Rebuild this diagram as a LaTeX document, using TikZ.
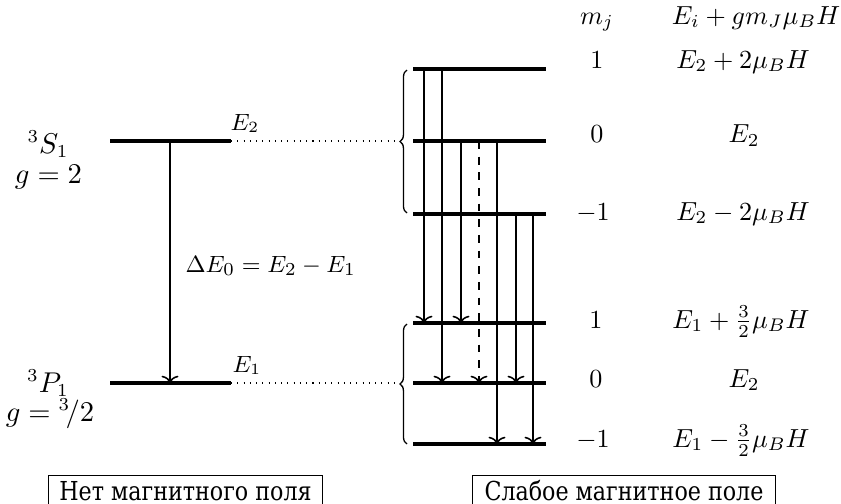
\documentclass[tikz,border=0pt]{standalone}
\usepackage{fontspec}
\newfontfamily\cyrfont[FakeStretch=0.85]{DejaVu Serif}
\usetikzlibrary{arrows.meta,decorations.pathreplacing}
\begin{document}
\begin{tikzpicture}[x=0.383pt,y=-0.383pt,
  level/.style={line width=1.2pt},
  trans/.style={line width=0.6pt,-{To[width=6.5pt,length=2.8pt]}},
  guide/.style={dotted,line width=0.4pt},
  brc/.style={decorate,decoration={brace,amplitude=2.7pt},line width=0.5pt},
  lab/.style={inner sep=0pt,anchor=base},
  biglab/.style={lab,font=\fontsize{10.5}{13}\selectfont},
  smalllab/.style={inner sep=0pt,anchor=base west,font=\fontsize{9}{11}\selectfont},
  fieldbox/.style={draw,line width=0.4pt,anchor=north,font=\cyrfont\fontsize{10}{12}\selectfont,inner xsep=2pt,inner ysep=1.5pt,text height=8.1pt,text depth=4pt}
]
\useasboundingbox (0,0) rectangle (841,504);

% ---- no field ----
\coordinate (S0) at (110,141); \coordinate (S1) at (231,141);
\coordinate (P0) at (110,383); \coordinate (P1) at (231,383);
\draw[level] (S0) -- (S1);
\draw[level] (P0) -- (P1);
\coordinate (Sa) at (170,141); \coordinate (Pa) at (170,383);
\draw[trans] (Sa) -- (Pa);

\node[biglab] (Slab) at (48,153) {${}^3S_1$};
\node[biglab] (gS) at (48.5,183) {$g=2$};
\node[biglab] (Plab) at (48,392) {${}^3P_1$};
\node[biglab] (gP) at (50,421) {$g={}^3\!/2$};
\node[smalllab] (E2lab) at (230,130) {$E_2$};
\node[smalllab] (E1lab) at (232,372) {$E_1$};
\node[inner sep=0pt,anchor=base west,font=\fontsize{9.5}{11}\selectfont] (dE) at (185,272) {$\Delta E_0 = E_2 - E_1$};

% ---- weak field ----
\foreach \n/\y in {u1/69,u2/141,u3/214,l1/323,l2/383,l3/444}{
  \coordinate (\n-L) at (413,\y); \coordinate (\n-R) at (546,\y);
  \draw[level] (\n-L) -- (\n-R);
}
\coordinate (Bu) at (400,141); \coordinate (Bl) at (400,383);
\draw[guide] (S1) -- (Bu);
\draw[guide] (P1) -- (Bl);

\coordinate (bu-top) at (407,70); \coordinate (bu-bot) at (407,213);
\coordinate (bl-top) at (407,324); \coordinate (bl-bot) at (407,444);
\draw[brc] (bu-bot) -- (bu-top);
\draw[brc] (bl-bot) -- (bl-top);

\foreach \i/\x/\a/\b in {1/424/69/323,2/442/69/383,3/461/141/323,5/497/141/444,6/516/214/383,7/533/214/444}{
  \coordinate (t\i) at (\x,\a); \coordinate (h\i) at (\x,\b);
  \draw[trans] (t\i) -- (h\i);
}
\coordinate (t4) at (479,141); \coordinate (h4) at (479,383);
\draw[trans,dashed] (t4) -- (h4);

% ---- labels on the right ----
\node[lab] (mj) at (597,24) {$m_j$};
\node[lab] (hdr) at (756,24) {$E_i + g m_J \mu_B H$};
\node[lab] (m1) at (597,68) {$1$};
\node[lab] (m2) at (597,142.5) {$0$};
\node[lab] (m3) at (593,220) {$-1$};
\node[lab] (m4) at (596,328) {$1$};
\node[lab] (m5) at (596,387) {$0$};
\node[lab] (m6) at (593,447) {$-1$};
\node[lab] (e1) at (743,68) {$E_2 + 2\mu_B H$};
\node[lab] (e2) at (744,142.5) {$E_2$};
\node[lab] (e3) at (743,220) {$E_2 - 2\mu_B H$};
\node[lab] (e4) at (741,328) {$E_1 + \frac{3}{2}\mu_B H$};
\node[lab] (e5) at (744,387) {$E_2$};
\node[lab] (e6) at (741,447) {$E_1 - \frac{3}{2}\mu_B H$};

% ---- captions ----
\node[fieldbox,minimum width=104.6pt] (nf) at (185.5,475) {Нет магнитного поля};
\node[fieldbox,minimum width=115.7pt] (wf) at (624,475) {Слабое магнитное поле};
\end{tikzpicture}
\end{document}
